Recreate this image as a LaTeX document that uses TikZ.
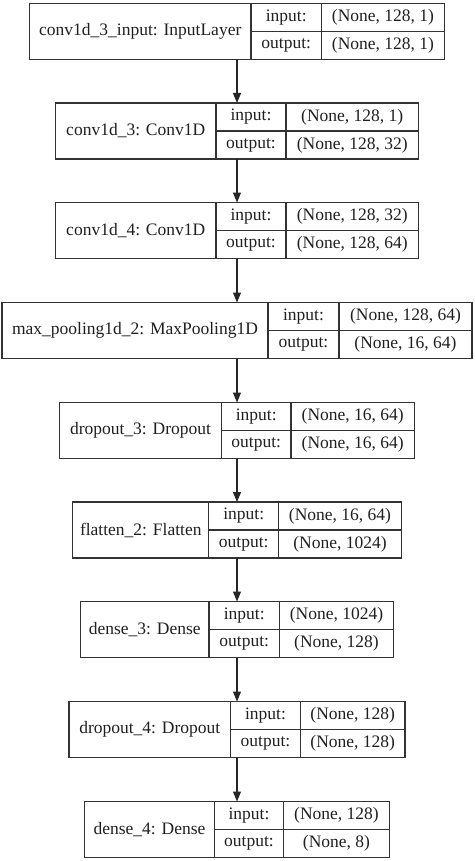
\documentclass[tikz,border=0pt]{standalone}
\usepackage{fontspec}
\setmainfont{Liberation Serif}
\usepackage{tikz}
\usetikzlibrary{arrows.meta}

\begin{document}
\begin{tikzpicture}[x=1pt,y=-1pt]
\tikzstyle{every node}+=[inner sep=0pt, outer sep=0pt, text=black!88, font=\fontsize{17.5}{21}\selectfont]
\tikzstyle{frame}=[draw=black!80, line width=1.1pt, minimum height=56pt]
\tikzstyle{cell}=[draw=black!80, line width=1.1pt, minimum height=56pt, anchor=west]
\tikzstyle{half}=[draw=black!80, line width=1.1pt, minimum height=28pt, anchor=north west]
\tikzstyle{link}=[draw=black!85, line width=1.1pt, -{Triangle[length=10pt,width=8pt]}]
\useasboundingbox (0,0) rectangle (474,861);
% conv1d_3_input
\draw (237,31.5) node [frame, minimum width=415pt] (l1) {};
\draw (l1.west) node [cell, minimum width=221.5pt] (l1n) {conv1d\_3\_input: InputLayer};
\draw (l1n.north east) node [half, minimum width=70.5pt] (l1i) {input:};
\draw (l1i.south west) node [half, minimum width=70.5pt] (l1o) {output:};
\draw (l1i.north east) node [half, minimum width=123pt] (l1a) {(None, 128, 1)};
\draw (l1o.north east) node [half, minimum width=123pt] (l1b) {(None, 128, 1)};
% conv1d_3
\draw (237,131) node [frame, minimum width=363pt] (l2) {};
\draw (l2.west) node [cell, minimum width=160.5pt] (l2n) {conv1d\_3: Conv1D};
\draw (l2n.north east) node [half, minimum width=70pt] (l2i) {input:};
\draw (l2i.south west) node [half, minimum width=70pt] (l2o) {output:};
\draw (l2i.north east) node [half, minimum width=132.5pt] (l2a) {(None, 128, 1)};
\draw (l2o.north east) node [half, minimum width=132.5pt] (l2b) {(None, 128, 32)};
% conv1d_4
\draw (237,230.5) node [frame, minimum width=363pt] (l3) {};
\draw (l3.west) node [cell, minimum width=160.5pt] (l3n) {conv1d\_4: Conv1D};
\draw (l3n.north east) node [half, minimum width=70pt] (l3i) {input:};
\draw (l3i.south west) node [half, minimum width=70pt] (l3o) {output:};
\draw (l3i.north east) node [half, minimum width=132.5pt] (l3a) {(None, 128, 32)};
\draw (l3o.north east) node [half, minimum width=132.5pt] (l3b) {(None, 128, 64)};
% max_pooling1d_2
\draw (237,330.5) node [frame, minimum width=470pt] (l4) {};
\draw (l4.west) node [cell, minimum width=266pt] (l4n) {max\_pooling1d\_2: MaxPooling1D};
\draw (l4n.north east) node [half, minimum width=71pt] (l4i) {input:};
\draw (l4i.south west) node [half, minimum width=71pt] (l4o) {output:};
\draw (l4i.north east) node [half, minimum width=133pt] (l4a) {(None, 128, 64)};
\draw (l4o.north east) node [half, minimum width=133pt] (l4b) {(None, 16, 64)};
% dropout_3
\draw (237,430.5) node [frame, minimum width=355pt] (l5) {};
\draw (l5.west) node [cell, minimum width=162pt] (l5n) {dropout\_3: Dropout};
\draw (l5n.north east) node [half, minimum width=69.5pt] (l5i) {input:};
\draw (l5i.south west) node [half, minimum width=69.5pt] (l5o) {output:};
\draw (l5i.north east) node [half, minimum width=123.5pt] (l5a) {(None, 16, 64)};
\draw (l5o.north east) node [half, minimum width=123.5pt] (l5b) {(None, 16, 64)};
% flatten_2
\draw (237,530) node [frame, minimum width=328.5pt] (l6) {};
\draw (l6.west) node [cell, minimum width=136pt] (l6n) {flatten\_2: Flatten};
\draw (l6n.north east) node [half, minimum width=70pt] (l6i) {input:};
\draw (l6i.south west) node [half, minimum width=70pt] (l6o) {output:};
\draw (l6i.north east) node [half, minimum width=122.5pt] (l6a) {(None, 16, 64)};
\draw (l6o.north east) node [half, minimum width=122.5pt] (l6b) {(None, 1024)};
% dense_3
\draw (237,629.5) node [frame, minimum width=313pt] (l7) {};
\draw (l7.west) node [cell, minimum width=128.5pt] (l7n) {dense\_3: Dense};
\draw (l7n.north east) node [half, minimum width=70.5pt] (l7i) {input:};
\draw (l7i.south west) node [half, minimum width=70.5pt] (l7o) {output:};
\draw (l7i.north east) node [half, minimum width=114pt] (l7a) {(None, 1024)};
\draw (l7o.north east) node [half, minimum width=114pt] (l7b) {(None, 128)};
% dropout_4
\draw (237,729.5) node [frame, minimum width=336pt] (l8) {};
\draw (l8.west) node [cell, minimum width=161.5pt] (l8n) {dropout\_4: Dropout};
\draw (l8n.north east) node [half, minimum width=70pt] (l8i) {input:};
\draw (l8i.south west) node [half, minimum width=70pt] (l8o) {output:};
\draw (l8i.north east) node [half, minimum width=104.5pt] (l8a) {(None, 128)};
\draw (l8o.north east) node [half, minimum width=104.5pt] (l8b) {(None, 128)};
% dense_4
\draw (237,829.5) node [frame, minimum width=304.5pt] (l9) {};
\draw (l9.west) node [cell, minimum width=129.5pt] (l9n) {dense\_4: Dense};
\draw (l9n.north east) node [half, minimum width=69.5pt] (l9i) {input:};
\draw (l9i.south west) node [half, minimum width=69.5pt] (l9o) {output:};
\draw (l9i.north east) node [half, minimum width=105.5pt] (l9a) {(None, 128)};
\draw (l9o.north east) node [half, minimum width=105.5pt] (l9b) {(None, 8)};
% arrows
\draw [link] (l1) -- (l2);
\draw [link] (l2) -- (l3);
\draw [link] (l3) -- (l4);
\draw [link] (l4) -- (l5);
\draw [link] (l5) -- (l6);
\draw [link] (l6) -- (l7);
\draw [link] (l7) -- (l8);
\draw [link] (l8) -- (l9);
\end{tikzpicture}
\end{document}
